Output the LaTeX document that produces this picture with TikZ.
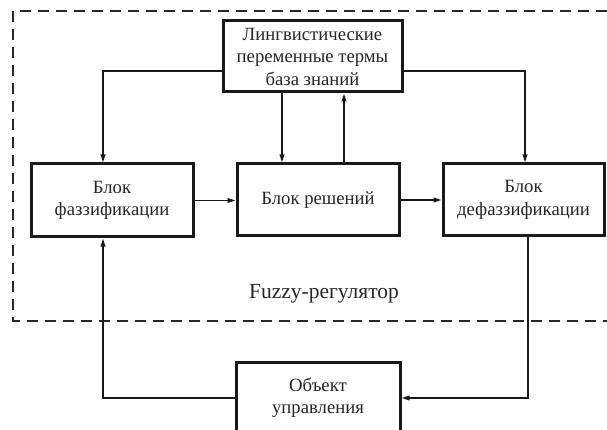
\documentclass[tikz,border=0pt]{standalone}
\usepackage{fontspec}
\setmainfont{Liberation Serif}
\usetikzlibrary{arrows.meta}
\begin{document}
\begin{tikzpicture}[x=1pt,y=-1pt,
  blk/.style={draw=black!90,line width=3pt,fill=white,inner sep=0pt,
    align=center,text=black!85,font=\fontsize{18.7}{22.5}\selectfont},
  conn/.style={line width=1.6pt,draw=black!90},
  arr/.style={conn,-{Triangle[length=8pt,width=4.5pt]}},
  frame/.style={line width=1.7pt,draw=black!85,dash pattern=on 11pt off 7pt}]
\useasboundingbox (0,0) rectangle (607,430);
\fill[white] (0,0) rectangle (607,430);
\draw[frame] (607,11) -- (13,11) -- (13,321) -- (607,321);
\node[blk,minimum width=179pt,minimum height=71pt] (kb) at (312.5,56.5)
  {Лингвистические\\переменные термы\\база знаний};
\node[blk,minimum width=162pt,minimum height=73pt] (fuzz) at (112,200.5)
  {Блок\\фаззификации};
\node[blk,minimum width=162pt,minimum height=72pt] (dec) at (318,200)
  {Блок решений};
\node[blk,minimum width=161pt,minimum height=72pt] (defuzz) at (523.5,200)
  {Блок\\дефаззификации};
\node[blk,minimum width=164pt,minimum height=72pt] (obj) at (318,398)
  {Объект\\управления};
\node[text=black!85,font=\fontsize{21.5}{24}\selectfont] (lbl) at (324,294) {Fuzzy-регулятор};
\draw[arr] ([yshift=-14.5pt]kb.west) -| ([xshift=-9pt]fuzz.north);
\draw[arr] ([yshift=-14.5pt]kb.east) -| ([xshift=1.5pt]defuzz.north);
\draw[arr] ([xshift=-30.5pt]kb.south) -- ([xshift=-30.5pt]kb.south |- dec.north);
\draw[arr] ([xshift=26pt]dec.north) -- ([xshift=26pt]dec.north |- kb.south);
\draw[arr] (fuzz.east) -- (fuzz.east -| dec.west);
\draw[arr] (dec.east) -- (dec.east -| defuzz.west);
\draw[arr] ([xshift=4.5pt]defuzz.south) |- (obj.east);
\draw[arr] (obj.west) -| ([xshift=-9pt]fuzz.south);
\end{tikzpicture}
\end{document}
